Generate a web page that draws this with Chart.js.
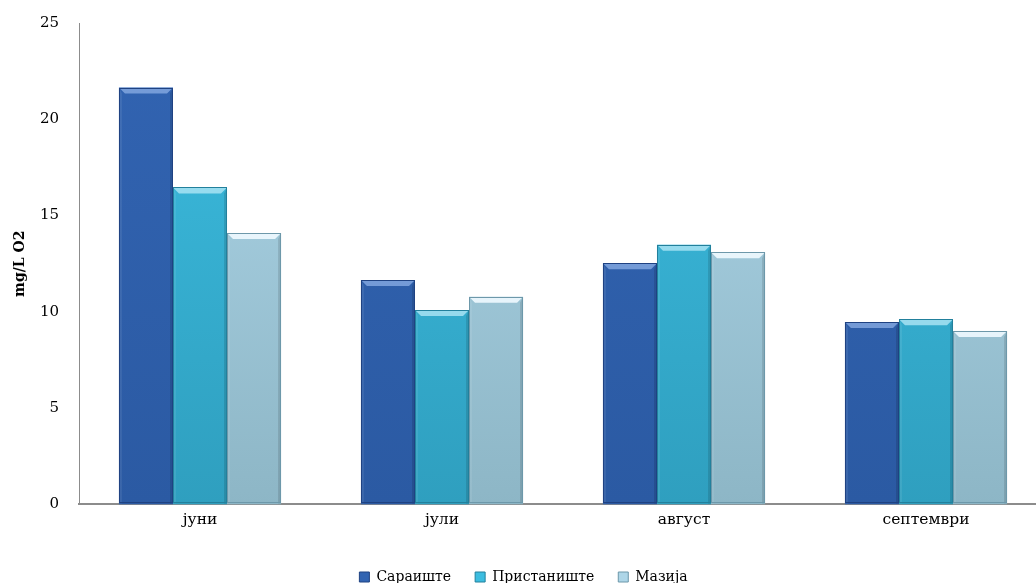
<!DOCTYPE html>
<html>
<head>
<meta charset="utf-8">
<script src="https://cdn.jsdelivr.net/npm/chart.js@4/dist/chart.umd.min.js"></script>
<style>
  html, body { margin: 0; padding: 0; background: #fff; overflow: hidden; }
  #wrap { position: relative; width: 1047px; height: 583px; }
</style>
</head>
<body>
<div id="wrap"><canvas id="c" width="1047" height="583"></canvas></div>
<script>
// Monthly values, mg/L O2, per sampling site
const months = ['јуни', 'јули', 'август', 'септември'];
const sites = ['Сараиште', 'Пристаниште', 'Мазија'];
const saraishte = [21.65, 11.66, 12.52, 9.47];
const pristanishte = [16.46, 10.09, 13.49, 9.61];
const mazija = [14.10, 10.79, 13.09, 9.00];
const yTicks = [0, 5, 10, 15, 20, 25];

// top / bottom shades for each site's bars
const shades = [
  { top: '#3264b2', bottom: '#2b5aa3', edge: '#1f4282', hi: 'rgba(140,175,230,0.75)' },
  { top: '#3cbde0', bottom: '#2f9fbf', edge: '#22809c', hi: 'rgba(175,230,245,0.8)' },
  { top: '#aed6e8', bottom: '#8db6c6', edge: '#6d98aa', hi: 'rgba(240,250,255,0.9)' }
];

function gradFor(i) {
  return (ctx) => {
    const ch = ctx.chart;
    const a = ch.chartArea;
    if (!a) return shades[i].top;
    const g = ch.ctx.createLinearGradient(0, a.top, 0, a.bottom);
    g.addColorStop(0, shades[i].top);
    g.addColorStop(1, shades[i].bottom);
    return g;
  };
}

// Bevelled look on every bar: light top facet, darker side facets
const bevel = {
  id: 'bevel',
  afterDatasetsDraw(chart) {
    const c = chart.ctx;
    chart.data.datasets.forEach((ds, di) => {
      const meta = chart.getDatasetMeta(di);
      const s = shades[di];
      meta.data.forEach((bar) => {
        const x0 = bar.x - bar.width / 2, x1 = bar.x + bar.width / 2;
        const y0 = bar.y, y1 = bar.base - 1;
        const b = 6;
        c.save();
        c.fillStyle = s.hi;
        c.beginPath();
        c.moveTo(x0, y0); c.lineTo(x1, y0); c.lineTo(x1 - b, y0 + b); c.lineTo(x0 + b, y0 + b);
        c.closePath(); c.fill();
        c.fillStyle = 'rgba(0,0,0,0.12)';
        c.beginPath();
        c.moveTo(x1, y0); c.lineTo(x1, y1); c.lineTo(x1 - 3, y1); c.lineTo(x1 - 3, y0 + b);
        c.closePath(); c.fill();
        c.fillStyle = 'rgba(255,255,255,0.08)';
        c.beginPath();
        c.moveTo(x0, y0); c.lineTo(x0 + 3, y0 + b); c.lineTo(x0 + 3, y1); c.lineTo(x0, y1);
        c.closePath(); c.fill();
        c.strokeStyle = s.edge;
        c.lineWidth = 1;
        const rx = Math.round(x0) + 0.5, ry = Math.round(y0) + 0.5;
        c.strokeRect(rx, ry, Math.round(x1 - x0) - 1, Math.round(y1) - Math.round(y0) - 1);
        c.restore();
      });
    });
  }
};

const serif = "'DejaVu Serif', 'Liberation Serif', serif";

new Chart(document.getElementById('c'), {
  type: 'bar',
  data: {
    labels: months,
    datasets: [
      { label: sites[0], data: saraishte, backgroundColor: gradFor(0) },
      { label: sites[1], data: pristanishte, backgroundColor: gradFor(1) },
      { label: sites[2], data: mazija, backgroundColor: gradFor(2) }
    ]
  },
  options: {
    responsive: false,
    animation: false,
    layout: { padding: { top: 21, right: 0, left: 0, bottom: -11 } },
    datasets: { bar: { barPercentage: 1.0, categoryPercentage: 0.67, borderWidth: 0 } },
    plugins: {
      tooltip: { enabled: false },
      legend: {
        position: 'bottom',
        labels: {
          font: { family: serif, size: 14 },
          color: '#000',
          boxWidth: 10,
          boxHeight: 10,
          padding: 24,
          generateLabels(chart) {
            return chart.data.datasets.map((ds, i) => ({
              text: ds.label,
              fillStyle: shades[i].top,
              strokeStyle: shades[i].edge,
              lineWidth: 1,
              datasetIndex: i,
              fontColor: '#000'
            }));
          }
        }
      }
    },
    scales: {
      x: {
        grid: { display: false, drawTicks: false },
        border: { display: true, color: '#8c8c8c', width: 2 },
        ticks: { font: { family: serif, size: 15.5 }, color: '#000', padding: 6 },
        afterFit(axis) { axis.height += 11; }
      },
      y: {
        min: 0, max: 25,
        afterBuildTicks(axis) { axis.ticks = yTicks.map(v => ({ value: v })); },
        afterFit(axis) { axis.width = 79; },
        grid: { display: false, drawOnChartArea: false, drawTicks: true, tickLength: 6, color: '#8c8c8c' },
        border: { display: true, color: '#8c8c8c', width: 1 },
        ticks: { font: { family: serif, size: 15 }, color: '#000', padding: 14 },
        title: {
          display: true,
          text: 'mg/L O2',
          font: { family: serif, size: 14, weight: 'bold' },
          color: '#000',
          padding: { top: 12, bottom: 0 }
        }
      }
    }
  },
  plugins: [bevel]
});
</script>
</body>
</html>
